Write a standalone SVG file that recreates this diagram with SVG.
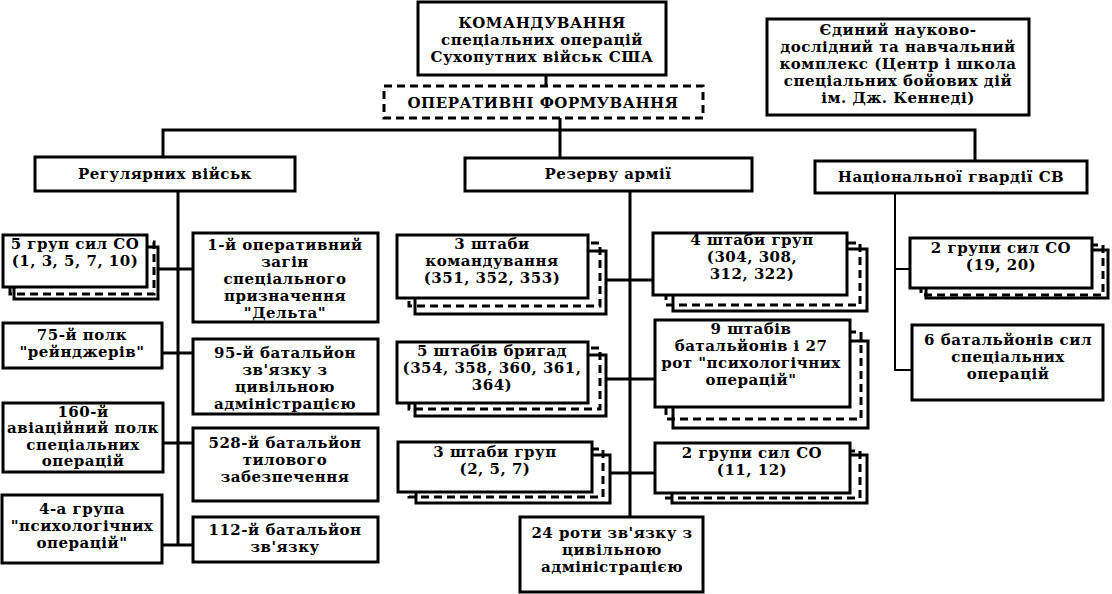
<svg xmlns="http://www.w3.org/2000/svg" width="1112" height="594" viewBox="0 0 1112 594">
<style>
.b{fill:#fff;stroke:#000;stroke-width:3}
.d{fill:none;stroke:#000;stroke-width:3;stroke-dasharray:8 5}
.c{fill:none;stroke:#000;stroke-width:3}
.c2{fill:none;stroke:#000;stroke-width:2}
.t{font-family:"DejaVu Serif","Liberation Serif",serif;font-weight:bold;font-size:15px;letter-spacing:0.5px;text-anchor:middle;fill:#000}
</style>
<rect width="1112" height="594" fill="#fff"/>
<g id="connectors">
<path class="c" d="M546 75V86M560 118V158M163 158V130H975V161"/>
<path class="c" d="M178 191V545M158 269H193M162 353H193M163 443H193M162 545H193"/>
<path class="c" d="M630 191V517M606 280H653M606 379H655M608 473H655"/>
<path class="c2" d="M895 193V370H912M895 269H910"/>
</g>
<g id="n-command">
<rect class="b" x="418" y="2" width="248" height="73"/>
<text class="t"><tspan x="542" y="28">КОМАНДУВАННЯ</tspan><tspan x="542" y="45">спеціальних операцій</tspan><tspan x="542" y="62">Сухопутних військ США</tspan></text>
</g>
<g id="n-oper">
<rect class="d" x="384" y="86" width="319" height="32" fill="#fff"/>
<text class="t" x="543" y="108">ОПЕРАТИВНІ ФОРМУВАННЯ</text>
</g>
<g id="n-center">
<rect class="b" x="767" y="19" width="262" height="96"/>
<text class="t"><tspan x="898" y="35">Єдиний науково-</tspan><tspan x="898" y="52">дослідний та навчальний</tspan><tspan x="898" y="69">комплекс (Центр і школа</tspan><tspan x="898" y="86">спеціальних бойових дій</tspan><tspan x="898" y="103">ім. Дж. Кеннеді)</tspan></text>
</g>
<g id="n-regular">
<rect class="b" x="35" y="157" width="260" height="34"/>
<text class="t" x="165" y="179">Регулярних військ</text>
</g>
<g id="n-reserve">
<rect class="b" x="465" y="158" width="287" height="33"/>
<text class="t" x="608" y="179">Резерву армії</text>
</g>
<g id="n-guard">
<rect class="b" x="815" y="161" width="272" height="32"/>
<text class="t" x="951" y="182">Національної гвардії СВ</text>
</g>
<g id="n-5groups">
<rect class="b" x="14" y="247" width="144" height="52"/>
<rect class="d" x="10" y="242" width="144" height="52"/>
<rect class="b" x="3" y="235" width="144" height="52"/>
<text class="t"><tspan x="75" y="249">5 груп сил СО</tspan><tspan x="75" y="266">(1, 3, 5, 7, 10)</tspan></text>
</g>
<g id="n-delta">
<rect class="b" x="193" y="233" width="185" height="89"/>
<text class="t"><tspan x="285" y="250">1-й оперативний</tspan><tspan x="285" y="267">загін</tspan><tspan x="285" y="284">спеціального</tspan><tspan x="285" y="301">призначення</tspan><tspan x="285" y="318">"Дельта"</tspan></text>
</g>
<g id="n-75">
<rect class="b" x="3" y="323" width="159" height="45"/>
<text class="t"><tspan x="82" y="340">75-й полк</tspan><tspan x="82" y="357">"рейнджерів"</tspan></text>
</g>
<g id="n-95">
<rect class="b" x="193" y="339" width="185" height="75"/>
<text class="t"><tspan x="285" y="358">95-й батальйон</tspan><tspan x="285" y="375">зв'язку з</tspan><tspan x="285" y="392">цивільною</tspan><tspan x="285" y="409">адміністрацією</tspan></text>
</g>
<g id="n-160">
<rect class="b" x="3" y="403" width="160" height="69"/>
<text class="t"><tspan x="83" y="417">160-й</tspan><tspan x="83" y="433">авіаційний полк</tspan><tspan x="83" y="450">спеціальних</tspan><tspan x="83" y="466">операцій</tspan></text>
</g>
<g id="n-528">
<rect class="b" x="193" y="428" width="185" height="73"/>
<text class="t"><tspan x="285" y="448">528-й батальйон</tspan><tspan x="285" y="465">тилового</tspan><tspan x="285" y="482">забезпечення</tspan></text>
</g>
<g id="n-4psy">
<rect class="b" x="2" y="495" width="160" height="68"/>
<text class="t"><tspan x="82" y="514">4-а група</tspan><tspan x="82" y="531">"психологічних</tspan><tspan x="82" y="548">операцій"</tspan></text>
</g>
<g id="n-112">
<rect class="b" x="193" y="517" width="185" height="45"/>
<text class="t"><tspan x="285" y="535">112-й батальйон</tspan><tspan x="285" y="552">зв'язку</tspan></text>
</g>
<g id="n-3hq">
<rect class="b" x="415" y="251" width="191" height="63"/>
<rect class="d" x="409" y="243" width="191" height="63"/>
<rect class="b" x="397" y="235" width="191" height="63"/>
<text class="t"><tspan x="492" y="249">3 штаби</tspan><tspan x="492" y="266">командування</tspan><tspan x="492" y="283">(351, 352, 353)</tspan></text>
</g>
<g id="n-4hq">
<rect class="b" x="673" y="249" width="194" height="62"/>
<rect class="d" x="666" y="243" width="194" height="62"/>
<rect class="b" x="653" y="233" width="194" height="62"/>
<text class="t"><tspan x="752" y="245">4 штаби груп</tspan><tspan x="752" y="262">(304, 308,</tspan><tspan x="752" y="279">312, 322)</tspan></text>
</g>
<g id="n-5brig">
<rect class="b" x="415" y="355" width="191" height="61"/>
<rect class="d" x="409" y="348" width="191" height="61"/>
<rect class="b" x="397" y="342" width="191" height="61"/>
<text class="t"><tspan x="492" y="356">5 штабів бригад</tspan><tspan x="492" y="373">(354, 358, 360, 361,</tspan><tspan x="492" y="390">364)</tspan></text>
</g>
<g id="n-9hq">
<rect class="b" x="673" y="341" width="195" height="87"/>
<rect class="d" x="666" y="332" width="195" height="87"/>
<rect class="b" x="655" y="320" width="195" height="87"/>
<text class="t"><tspan x="751" y="334">9 штабів</tspan><tspan x="751" y="351">батальйонів і 27</tspan><tspan x="751" y="368">рот "психологічних</tspan><tspan x="751" y="385">операцій"</tspan></text>
</g>
<g id="n-3grp">
<rect class="b" x="416" y="455" width="194" height="48"/>
<rect class="d" x="409" y="449" width="194" height="48"/>
<rect class="b" x="398" y="442" width="194" height="50"/>
<text class="t"><tspan x="495" y="457">3 штаби груп</tspan><tspan x="495" y="474">(2, 5, 7)</tspan></text>
</g>
<g id="n-2grp1112">
<rect class="b" x="672" y="455" width="195" height="48"/>
<rect class="d" x="665" y="451" width="195" height="47"/>
<rect class="b" x="655" y="443" width="195" height="50"/>
<text class="t"><tspan x="752" y="458">2 групи сил СО</tspan><tspan x="752" y="475">(11, 12)</tspan></text>
</g>
<g id="n-24">
<rect class="b" x="520" y="517" width="183" height="75"/>
<text class="t"><tspan x="612" y="538">24 роти зв'язку з</tspan><tspan x="612" y="555">цивільною</tspan><tspan x="612" y="572">адміністрацією</tspan></text>
</g>
<g id="n-2grp1920">
<rect class="b" x="926" y="250" width="182" height="48"/>
<rect class="d" x="921" y="245" width="182" height="50"/>
<rect class="b" x="910" y="238" width="182" height="50"/>
<text class="t"><tspan x="1001" y="253">2 групи сил СО</tspan><tspan x="1001" y="270">(19, 20)</tspan></text>
</g>
<g id="n-6bat">
<rect class="b" x="912" y="325" width="191" height="75"/>
<text class="t"><tspan x="1008" y="345">6 батальйонів сил</tspan><tspan x="1008" y="362">спеціальних</tspan><tspan x="1008" y="379">операцій</tspan></text>
</g>
</svg>
